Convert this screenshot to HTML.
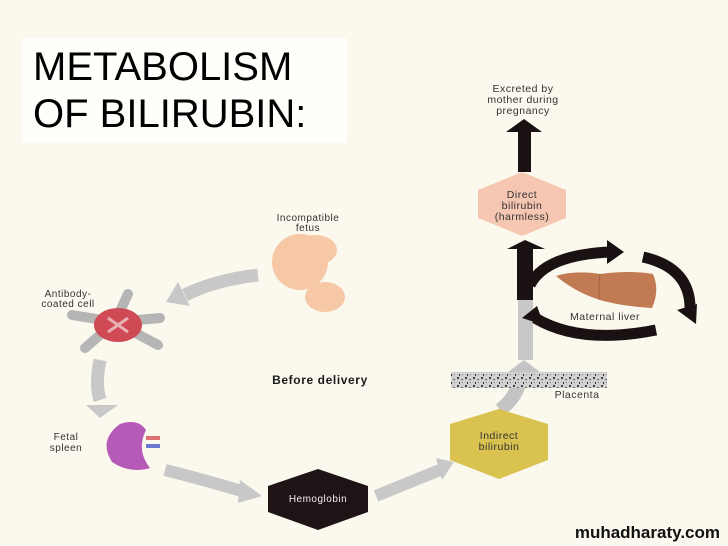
<!DOCTYPE html>
<html><head><meta charset="utf-8"><style>
html,body{margin:0;padding:0;background:#fbf8ee;}
svg{display:block}
text{font-family:"Liberation Sans",sans-serif;}
</style></head><body>
<svg width="728" height="546" viewBox="0 0 728 546" xmlns="http://www.w3.org/2000/svg">
<defs>
<pattern id="sp" width="8" height="8" patternUnits="userSpaceOnUse">
<rect width="8" height="8" fill="#d0d0d0"/>
<rect x="1" y="1" width="2" height="2" fill="#444"/>
<rect x="5" y="3" width="2" height="1" fill="#666"/>
<rect x="3" y="6" width="1" height="2" fill="#333"/>
<rect x="6" y="6" width="1" height="1" fill="#888"/>
</pattern>
</defs>
<rect width="728" height="546" fill="#fbf8ee"/>
<rect x="22" y="38" width="325" height="105" fill="#fefefb"/>
<text x="33" y="80" font-size="40" fill="#000">METABOLISM</text>
<text x="33" y="127" font-size="40" fill="#000">OF BILIRUBIN:</text>

<g font-size="10.5" fill="#333" text-anchor="middle" letter-spacing="0.5">
<text x="523" y="92">Excreted by</text>
<text x="523" y="103">mother during</text>
<text x="523" y="114">pregnancy</text>
</g>
<rect x="518" y="130" width="13" height="42" fill="#1a1212"/>
<polygon points="506,132 524,119 542,132" fill="#1a1212"/>
<polygon points="478,190 478,218 522,236 566,218 566,190 522,172" fill="#f5c6b1"/>
<g font-size="10.5" fill="#333" text-anchor="middle" letter-spacing="0.5">
<text x="522" y="198">Direct</text>
<text x="522" y="209">bilirubin</text>
<text x="522" y="220">(harmless)</text>
</g>

<rect x="518" y="298" width="15" height="62" fill="#c8c8c8"/>
<path d="M500,410 Q520,395 522,370" stroke="#c4c4c4" stroke-width="14" fill="none"/>
<polygon points="508,372 524,360 540,372" fill="#c4c4c4"/>
<rect x="517" y="247" width="16" height="53" fill="#1a1212"/>
<polygon points="507,249 525,240 545,249" fill="#1a1212"/>
<path d="M530,285 Q545,255 610,252" stroke="#1a1212" stroke-width="11" fill="none"/>
<polygon points="607,240 624,252 607,264" fill="#1a1212"/>
<path d="M643,257 Q692,268 690,312" stroke="#1a1212" stroke-width="11" fill="none"/>
<polygon points="677,310 696,324 697,304" fill="#1a1212"/>
<path d="M656,330 Q580,345 535,318" stroke="#1a1212" stroke-width="11" fill="none"/>
<polygon points="537,306 522,318 544,325" fill="#1a1212"/>
<path d="M556,276 Q575,270 600,274 Q630,270 653,274 Q660,290 652,308 Q620,306 600,300 Q575,292 556,276 Z" fill="#c27a52"/>
<path d="M600,274 Q598,288 600,300" stroke="#a86040" stroke-width="1" fill="none"/>
<text x="605" y="320" font-size="10.5" fill="#333" text-anchor="middle" letter-spacing="0.5">Maternal liver</text>

<rect x="451" y="372" width="156" height="16" fill="url(#sp)"/>
<text x="577" y="398" font-size="10.5" fill="#333" text-anchor="middle" letter-spacing="0.5">Placenta</text>

<polygon points="450,424 450,460 499,479 548,460 548,424 499,409" fill="#d9c24f"/>
<text x="499" y="439" font-size="10.5" fill="#333" text-anchor="middle" letter-spacing="0.5">Indirect</text>
<text x="499" y="450" font-size="10.5" fill="#333" text-anchor="middle" letter-spacing="0.5">bilirubin</text>

<text x="320" y="384" font-size="12" font-weight="bold" fill="#1a1a1a" text-anchor="middle" letter-spacing="0.6">Before delivery</text>

<polygon points="268,486 268,512 318,530 368,512 368,486 318,469" fill="#1e1416"/>
<text x="318" y="502" font-size="10" fill="#eee" text-anchor="middle" letter-spacing="0.5">Hemoglobin</text>
<path d="M376,496 Q410,482 440,470" stroke="#c8c8c8" stroke-width="12" fill="none"/>
<polygon points="436,458 454,462 442,480" fill="#c8c8c8"/>
<path d="M165,470 Q205,480 245,492" stroke="#c8c8c8" stroke-width="12" fill="none"/>
<polygon points="240,480 262,496 238,503" fill="#c8c8c8"/>
<path d="M100,360 Q95,385 100,400" stroke="#c8c8c8" stroke-width="13" fill="none"/>
<polygon points="86,405 100,418 118,405" fill="#c8c8c8"/>
<path d="M258,275 Q215,280 185,295" stroke="#c8c8c8" stroke-width="13" fill="none"/>
<polygon points="178,282 166,302 190,306" fill="#c8c8c8"/>

<g fill="#f7c8a6">
<ellipse cx="300" cy="262" rx="28" ry="28"/>
<ellipse cx="325" cy="297" rx="20" ry="15"/>
<ellipse cx="315" cy="250" rx="22" ry="15"/>
</g>
<g font-size="10" fill="#333" text-anchor="middle" letter-spacing="0.5">
<text x="308" y="221">Incompatible</text>
<text x="308" y="231">fetus</text>
<text x="68" y="297">Antibody-</text>
<text x="68" y="307">coated cell</text>
<text x="66" y="440">Fetal</text>
<text x="66" y="451">spleen</text>
</g>
<g stroke="#b5b5b5" stroke-width="10" stroke-linecap="round">
<line x1="115" y1="322" x2="128" y2="294"/>
<line x1="115" y1="322" x2="160" y2="318"/>
<line x1="115" y1="322" x2="158" y2="345"/>
<line x1="115" y1="322" x2="85" y2="348"/>
<line x1="115" y1="322" x2="72" y2="315"/>
</g>
<ellipse cx="118" cy="325" rx="24" ry="17" fill="#cf4a55"/>
<path d="M108,318 L128,332 M128,318 L108,332" stroke="#e9b0b4" stroke-width="3"/>
<path d="M120,424 Q98,440 112,462 Q130,474 150,468 Q136,450 146,430 Q138,418 120,424 Z" fill="#b65ab8"/>
<rect x="146" y="436" width="14" height="4" fill="#e07070"/>
<rect x="146" y="444" width="14" height="4" fill="#6a7ad0"/>

<text x="720" y="538" font-size="17" font-weight="bold" fill="#111" text-anchor="end">muhadharaty.com</text>
</svg>
</body></html>
